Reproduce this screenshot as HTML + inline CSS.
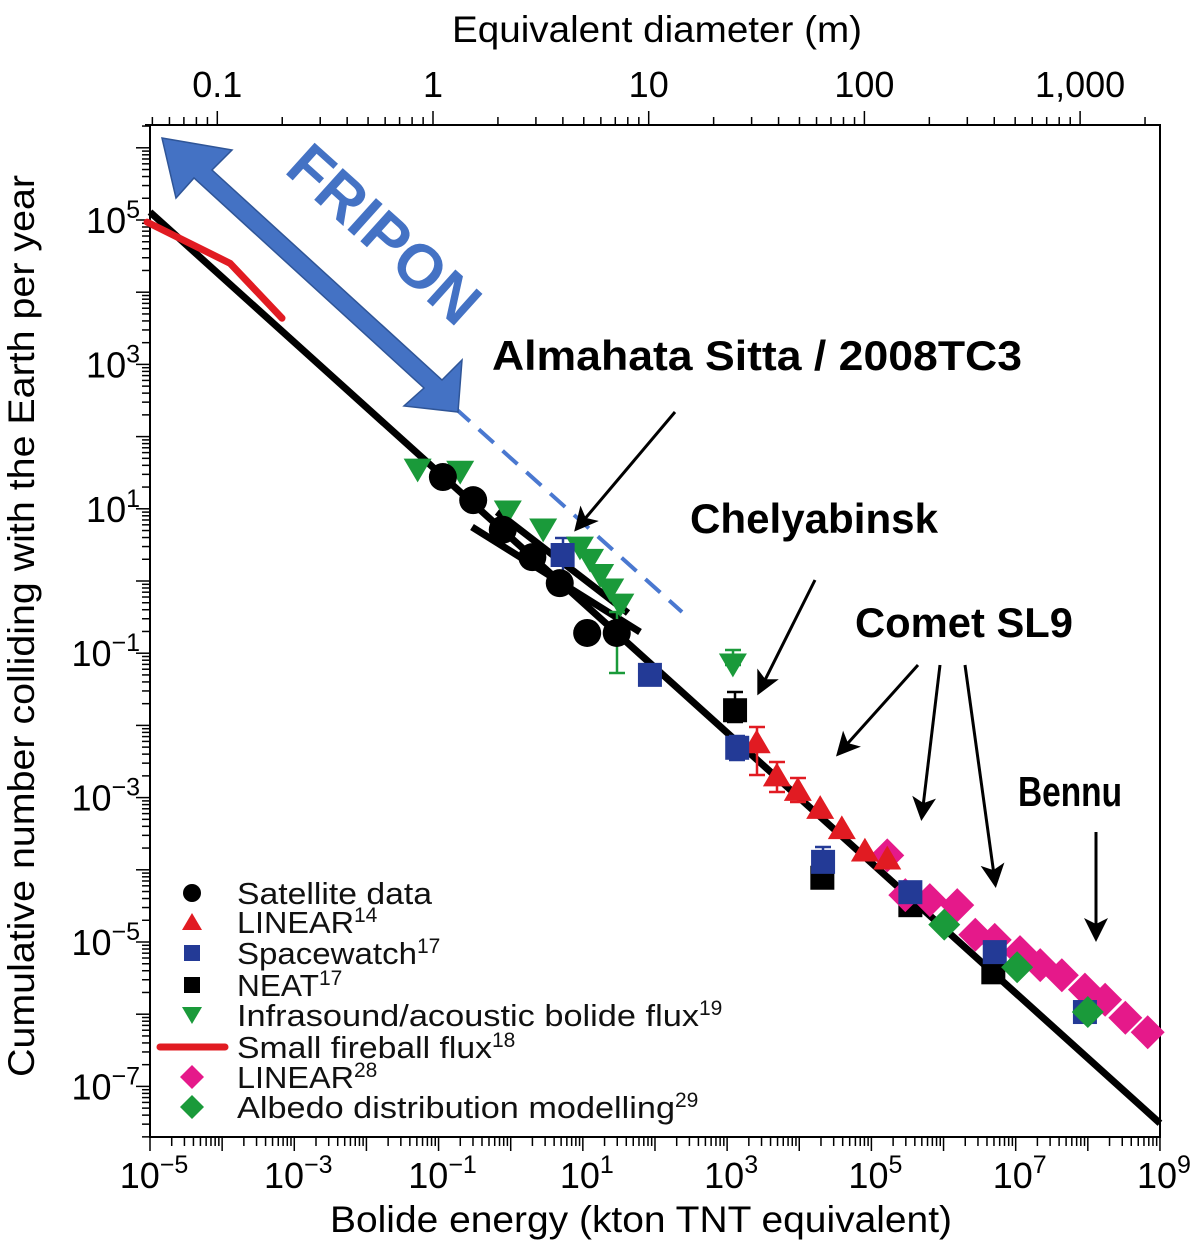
<!DOCTYPE html>
<html><head><meta charset="utf-8"><style>
html,body{margin:0;padding:0;background:#fff;}
svg{display:block;font-family:"Liberation Sans",sans-serif;}
</style></head><body>
<svg id="chart" width="1200" height="1249" viewBox="0 0 1200 1249" xmlns="http://www.w3.org/2000/svg">
<defs>
<marker id="ah" markerWidth="8" markerHeight="8" refX="6" refY="4" orient="auto" markerUnits="strokeWidth"><path d="M0,0 L8,4 L0,8 L2,4 z" fill="#000"/></marker>
</defs>
<g id="g"></g>
</svg>
<script>
// data in log10 units
const satX=[-0.94,-0.52,-0.11,0.30,0.68,1.06,1.47];
const satY=[1.44,1.12,0.71,0.33,-0.03,-0.72,-0.72];
const infX=[-1.29,-0.70,-0.04,0.45,0.96,1.10,1.24,1.38,1.52,3.08];
const infY=[1.54,1.51,0.96,0.71,0.46,0.29,0.08,-0.12,-0.33,-1.16];
const swX=[0.72,1.93,3.14,4.33,5.54,6.71,7.96];
const swY=[0.36,-1.30,-2.31,-3.89,-4.31,-5.14,-5.97];
const neatX=[3.11,4.32,5.54,6.69];
const neatY=[-1.79,-4.11,-4.49,-5.42];
const linX=[3.41,3.69,3.98,4.29,4.59,4.91,5.22];
const linY=[-2.23,-2.69,-2.89,-3.14,-3.42,-3.73,-3.84];
const lin28X=[5.22,5.47,5.81,6.19,6.44,6.71,7.06,7.34,7.64,7.96,8.24,8.52,8.83];
const lin28Y=[-3.80,-4.35,-4.42,-4.49,-4.90,-4.97,-5.14,-5.32,-5.46,-5.66,-5.80,-6.05,-6.25];
const albX=[6.01,7.02,8.00];
const albY=[-4.76,-5.35,-5.97];
const fireX=[-5.04,-3.89,-3.17];
const fireY=[4.97,4.40,3.64];
const fitX=[-5,9];
const fitY=[5.11,-7.51];
const xTicks=[-5,-3,-1,1,3,5,7,9];
const yTicks=[5,3,1,-1,-3,-5,-7];
const dTicks=[0.1,1,10,100,1000];
const dLabels=["0.1","1","10","100","1,000"];

const L=150,R=1160,T=125,B=1137;
const X=v=>L+(v+5)*72.14;
const Y=v=>220+(5-v)*72.2;
const D=d=>433+215.7*Math.log10(d);
const NS="http://www.w3.org/2000/svg";
const g=document.getElementById('g');
function mk(tag,attrs,parent){const e=document.createElementNS(NS,tag);for(const k in attrs)e.setAttribute(k,attrs[k]);(parent||g).appendChild(e);return e;}
function fit(e,w){e.setAttribute('textLength',w);e.setAttribute('lengthAdjust','spacingAndGlyphs');}

let fr=mk('rect',{x:L,y:T,width:R-L,height:B-T,fill:'none',stroke:'#000','stroke-width':2});



for(let d=-5;d<9;d++){for(let m=1;m<10;m++){const v=d+Math.log10(m);const x=X(v);const major=m==1;
 mk('line',{x1:x,y1:B,x2:x,y2:B+(major?14:9),stroke:'#000','stroke-width':1.5});}}
mk('line',{x1:X(9),y1:B,x2:X(9),y2:B+14,stroke:'#000','stroke-width':1.5});
for(let d=-8;d<7;d++){for(let m=1;m<10;m++){const v=d+Math.log10(m);const y=Y(v);if(y<T||y>B)continue;const major=m==1;
 mk('line',{x1:L,y1:y,x2:L-(major?14:8),y2:y,stroke:'#000','stroke-width':1.5});}}
for(let d=-2;d<4;d++){for(let m=1;m<10;m++){const dv=m*Math.pow(10,d);const x=D(dv);if(x<L-2||x>R+2)continue;const major=m==1;
 mk('line',{x1:x,y1:T,x2:x,y2:T-(major?14:8),stroke:'#000','stroke-width':1.5});}}
mk('line',{x1:L-5,y1:T,x2:R,y2:T,stroke:'#000','stroke-width':2});

xTicks.forEach(v=>{const t=mk('text',{x:X(v)+4,y:1188,'font-size':36,'text-anchor':'middle'});t.innerHTML='10<tspan dy="-15" font-size="25">'+(v<0?'−'+(-v):v)+'</tspan>';
 
 });
yTicks.forEach(v=>{const t=mk('text',{x:140,y:Y(v)+13,'font-size':36,'text-anchor':'end'});t.innerHTML='10<tspan dy="-15" font-size="25">'+(v<0?'−'+(-v):v)+'</tspan>';
 
 });
dTicks.forEach((d,i)=>{const t=mk('text',{x:D(d),y:97,'font-size':36,'text-anchor':'middle'});t.textContent=dLabels[i];
 
 });

let tt=mk('text',{x:452,y:42,'font-size':37});tt.textContent='Equivalent diameter (m)';fit(tt,410);


let xt=mk('text',{x:330,y:1232,'font-size':37});xt.textContent='Bolide energy (kton TNT equivalent)';fit(xt,622);


let yt=mk('text',{x:0,y:0,'font-size':37,transform:'translate(34,1077) rotate(-90)'});yt.textContent='Cumulative number colliding with the Earth per year';fit(yt,902);



let fl=mk('line',{x1:X(fitX[0]),y1:Y(fitY[0]),x2:X(fitX[1]),y2:Y(fitY[1]),stroke:'#000','stroke-width':7});


mk('line',{x1:472,y1:527,x2:640,y2:632,stroke:'#000','stroke-width':7});
mk('line',{x1:497,y1:512,x2:628,y2:613,stroke:'#000','stroke-width':7});

let fp=mk('polyline',{points:fireX.map((v,i)=>X(v)+','+Y(fireY[i])).join(' '),fill:'none',stroke:'#e11b22','stroke-width':7,'stroke-linecap':'round'});



let dl=mk('line',{x1:455,y1:408,x2:682,y2:612,stroke:'#4a78d0','stroke-width':4,'stroke-dasharray':'20,12'});


let ar=mk('polygon',{points:'162,138 232,150 212,170 442,380 462,360 458,412 404,406 424,388 194,178 176,198',fill:'#4472c4',stroke:'#2f5597','stroke-width':1.5});


let ft=mk('text',{x:0,y:0,'font-size':62,'font-weight':'bold',fill:'#4472c4','text-anchor':'middle',transform:'translate(370,250) rotate(42)'});ft.textContent='FRIPON';



function errbar(x,y1,y2,c){mk('line',{x1:x,y1:y1,x2:x,y2:y2,stroke:c,'stroke-width':2.5});mk('line',{x1:x-8,y1:y1,x2:x+8,y2:y1,stroke:c,'stroke-width':2.5});mk('line',{x1:x-8,y1:y2,x2:x+8,y2:y2,stroke:c,'stroke-width':2.5});}
errbar(617,612,673,'#1a9a3a');errbar(733,650,665,'#1a9a3a');errbar(563,538,578,'#233a96');errbar(737,736,760,'#233a96');errbar(735,692,722,'#000');errbar(757,727,775,'#e11b22');errbar(777,762,792,'#e11b22');errbar(798,778,802,'#e11b22');errbar(823,847,878,'#233a96');

function tri(x,y,c,down,s){const p=down?[[x-s,y-s*0.8],[x+s,y-s*0.8],[x,y+s*0.9]]:[[x-s,y+s*0.8],[x+s,y+s*0.8],[x,y-s*0.9]];return mk('polygon',{points:p.map(a=>a.join(',')).join(' '),fill:c});}
function sq(x,y,c,s){return mk('rect',{x:x-s,y:y-s,width:2*s,height:2*s,fill:c});}
function dia(x,y,c,s){return mk('polygon',{points:`${x},${y-s} ${x+s},${y} ${x},${y+s} ${x-s},${y}`,fill:c});}

infX.forEach((v,i)=>{const e=tri(X(v),Y(infY[i]),'#1a9a3a',true,14);
 
 });
satX.forEach((v,i)=>{const e=mk('circle',{cx:X(v),cy:Y(satY[i]),r:14,fill:'#000'});
 
 });
neatX.forEach((v,i)=>{const e=sq(X(v),Y(neatY[i]),'#000',12);
 
 });
lin28X.forEach((v,i)=>{const e=dia(X(v),Y(lin28Y[i]),'#e5198a',17);
 
 });
linX.forEach((v,i)=>{const e=tri(X(v),Y(linY[i]),'#e11b22',false,14);
 
 });
swX.forEach((v,i)=>{const e=sq(X(v),Y(swY[i]),'#233a96',12);
 
 });
albX.forEach((v,i)=>{const e=dia(X(v),Y(albY[i]),'#1a9a3a',16);
 
 });

const ann=[['Almahata Sitta / 2008TC3',492,370,'annotation-almahata-sitta',530],['Chelyabinsk',690,533,'annotation-chelyabinsk',248],['Comet SL9',855,637,'annotation-comet-sl9',218],['Bennu',1018,806,'annotation-bennu',104]];
ann.forEach(a=>{const t=mk('text',{x:a[1],y:a[2],'font-size':42,'font-weight':'bold'});t.textContent=a[0];fit(t,a[4]);
 
 });
[[675,412,578,527],[815,580,760,690],[918,665,840,752],[940,665,922,815],[965,665,995,882],[1096,832,1096,936]].forEach(a=>{
 const l=mk('line',{x1:a[0],y1:a[1],x2:a[2],y2:a[3],stroke:'#000','stroke-width':3,'marker-end':'url(#ah)'});
 
 });

const legNames=['Satellite data','LINEAR','Spacewatch','NEAT','Infrasound/acoustic bolide flux','Small fireball flux','LINEAR','Albedo distribution modelling'];
const legSup=['','14','17','17','19','18','28','29'];
const legW=[195,117,180,82,462,255,117,438];
const legY=[893,922,953,985,1015,1047,1077,1107];
legNames.forEach((n,i)=>{const y=legY[i];const x=192;let m;
 if(i==0)m=mk('circle',{cx:x,cy:y,r:9,fill:'#000'});
 else if(i==1)m=tri(x,y,'#e11b22',false,10);
 else if(i==2)m=sq(x,y,'#233a96',8);
 else if(i==3)m=sq(x,y,'#000',8);
 else if(i==4)m=tri(x,y,'#1a9a3a',true,10);
 else if(i==5)m=mk('line',{x1:160,y1:y,x2:225,y2:y,stroke:'#e11b22','stroke-width':7,'stroke-linecap':'round'});
 else if(i==6)m=dia(x,y,'#e5198a',12);
 else m=dia(x,y,'#1a9a3a',12);
 
 
 const t=mk('text',{x:237,y:y+11,'font-size':31,fill:'#111'});
 const s1=mk('tspan',{},t);s1.textContent=n;fit(s1,legW[i]);
 if(legSup[i]){const s2=mk('tspan',{dy:-11,'font-size':21},t);s2.textContent=legSup[i];}
 
 });
</script>
</body></html>
